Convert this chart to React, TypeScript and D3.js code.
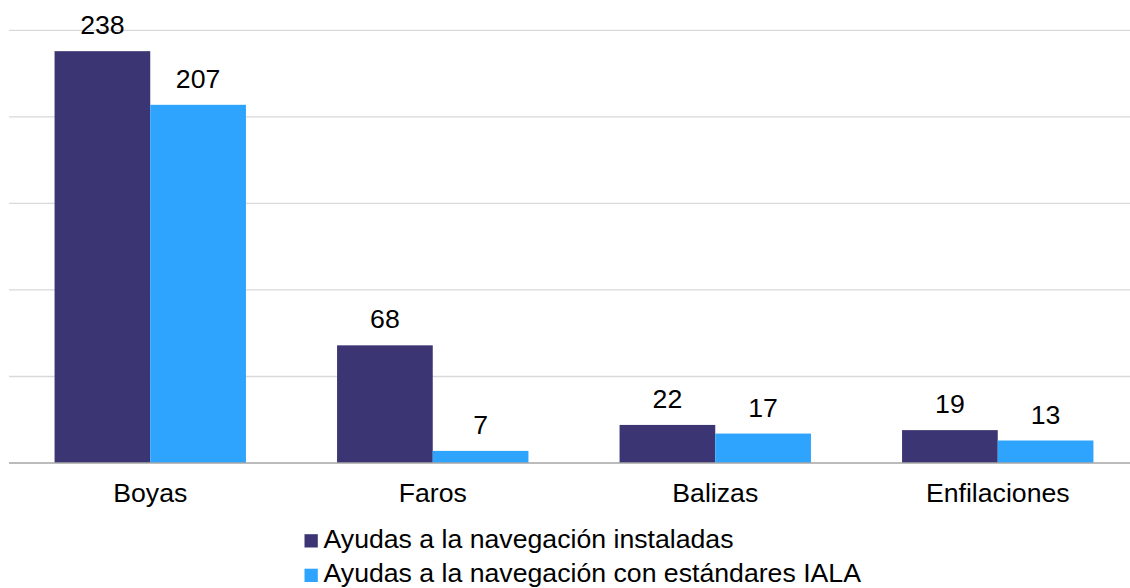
import React from "react";
import * as d3 from "d3";

const categories = ["Boyas", "Faros", "Balizas", "Enfilaciones"];
const seriesNames = [
  "Ayudas a la navegación instaladas",
  "Ayudas a la navegación con estándares IALA",
];
const installed = [238, 68, 22, 19];
const iala = [207, 7, 17, 13];
const yTicks = [0, 50, 100, 150, 200, 250];
const colors = ["#3b3673", "#2ea4ff"];

export default function App() {
  const W = 1130, H = 588;
  const x = d3.scaleBand<string>().domain(categories).range([9, 1139]).paddingInner(0.3225).paddingOuter(0.16125);
  const inner = d3.scaleBand<number>().domain([0, 1]).range([0, x.bandwidth()]);
  const y = d3.scaleLinear().domain([0, 250]).range([463, 30.4]);
  const series = [installed, iala];
  const font = "'Liberation Sans', Arial, sans-serif";
  const fs = 26.67;
  return (
    <svg width={W} height={H} style={{ position: "absolute", left: 0, top: 0 }} fontFamily={font}>
      <rect width={W} height={H} fill="#fff" />
      {yTicks.filter((t) => t > 0).map((t) => (
        <line key={t} x1={9} x2={W} y1={y(t)} y2={y(t)} stroke="#d9d9d9" strokeWidth={1.3} />
      ))}
      {series.map((vals, si) =>
        vals.map((v, ci) => {
          const bx = (x(categories[ci]) ?? 0) + (inner(si) ?? 0);
          return (
            <g key={`${si}-${ci}`}>
              <rect x={bx} y={y(v)} width={inner.bandwidth()} height={y(0) - y(v)} fill={colors[si]} />
              <text x={bx + inner.bandwidth() / 2} y={y(v) - 17} textAnchor="middle" fontSize={fs} fill="#000">
                {v}
              </text>
            </g>
          );
        })
      )}
      <line x1={9} x2={W} y1={y(0)} y2={y(0)} stroke="#a6a6a6" strokeWidth={1.5} />
      {categories.map((c) => (
        <text key={c} x={(x(c) ?? 0) + x.bandwidth() / 2} y={502} textAnchor="middle" fontSize={fs} fill="#000">
          {c}
        </text>
      ))}
      {seriesNames.map((n, i) => (
        <g key={n} transform={`translate(304.5, ${547.5 + i * 34.5})`}>
          <rect x={0} y={-13.3} width={13.3} height={13.3} fill={colors[i]} />
          <text x={19} y={0} fontSize={fs} fill="#000">{n}</text>
        </g>
      ))}
    </svg>
  );
}
